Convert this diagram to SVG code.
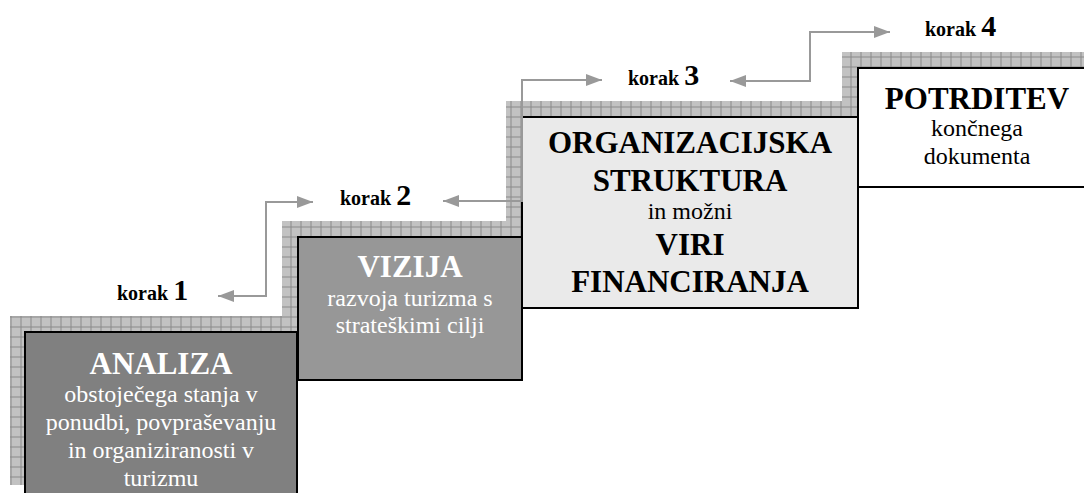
<svg xmlns="http://www.w3.org/2000/svg" width="1084" height="493" viewBox="0 0 1084 493">
<defs>
<pattern id="grid" patternUnits="userSpaceOnUse" x="0.5" y="6.5" width="10" height="10">
<rect width="10" height="10" fill="#c2c2c2"/>
<path d="M0 0.5H10M0.5 0V10" stroke="#8a8a8a" stroke-width="1" fill="none"/>
</pattern>
<marker id="ah" viewBox="0 0 16 12" refX="16" refY="6" markerWidth="16" markerHeight="12" markerUnits="userSpaceOnUse" orient="auto-start-reverse">
<path d="M0 0L16 6L0 12Z" fill="#999999"/>
</marker>
</defs>
<style>
.sh{fill:url(#grid);}
.bx{stroke:#000;stroke-width:2;}
.t{font-family:"Liberation Serif","Times New Roman",serif;text-anchor:middle;}
.b{font-weight:bold;font-size:31px;}
.r{font-size:24px;}
.w{fill:#fff;}
.k{fill:#000;}
.lab{font-family:"Liberation Serif","Times New Roman",serif;font-weight:bold;font-size:20px;fill:#000;}
.num{font-size:30px;}
.cn{fill:none;stroke:#999999;stroke-width:2;marker-start:url(#ah);marker-end:url(#ah);}
</style>
<rect width="1084" height="493" fill="#fff"/>
<g id="shadows">
<rect class="sh" x="10" y="316" width="272" height="169"/>
<rect class="sh" x="282" y="221" width="224" height="143"/>
<rect class="sh" x="506" y="101" width="336" height="191"/>
<rect class="sh" x="842" y="52" width="242" height="119"/>
</g>
<g id="step1">
<rect class="bx" x="25" y="332" width="272" height="175" fill="#808080"/>
<text class="t b w" x="161" y="374">ANALIZA</text>
<text class="t r w" x="161" y="402">obstoječega stanja v</text>
<text class="t r w" x="161" y="430">ponudbi, povpraševanju</text>
<text class="t r w" x="161" y="458">in organiziranosti v</text>
<text class="t r w" x="161" y="486">turizmu</text>
</g>
<g id="step2">
<rect class="bx" x="298" y="237" width="224" height="143" fill="#979797"/>
<text class="t b w" x="410" y="277">VIZIJA</text>
<text class="t r w" x="410" y="306">razvoja turizma s</text>
<text class="t r w" x="410" y="333">strateškimi cilji</text>
</g>
<g id="step3">
<rect class="bx" x="522" y="117" width="336" height="191" fill="#eaeaea"/>
<text class="t b k" x="690" y="153">ORGANIZACIJSKA</text>
<text class="t b k" x="690" y="191">STRUKTURA</text>
<text class="t r k" x="690" y="219">in možni</text>
<text class="t b k" x="690" y="255">VIRI</text>
<text class="t b k" x="690" y="292">FINANCIRANJA</text>
</g>
<g id="step4">
<rect class="bx" x="858" y="68" width="240" height="119" fill="#fff"/>
<text class="t b k" x="977" y="109">POTRDITEV</text>
<text class="t r k" x="977" y="136">končnega</text>
<text class="t r k" x="977" y="164">dokumenta</text>
</g>
<g id="labels">
<text class="lab" x="117" y="300">korak <tspan class="num">1</tspan></text>
<text class="lab" x="340" y="205">korak <tspan class="num">2</tspan></text>
<text class="lab" x="628" y="85">korak <tspan class="num">3</tspan></text>
<text class="lab" x="925" y="36">korak <tspan class="num">4</tspan></text>
</g>
<g id="connectors">
<path class="cn" d="M218 296H266V202H313"/>
<path class="cn" d="M443 201H522V80H602"/>
<path class="cn" d="M730 81H810V32H890"/>
</g>
</svg>
